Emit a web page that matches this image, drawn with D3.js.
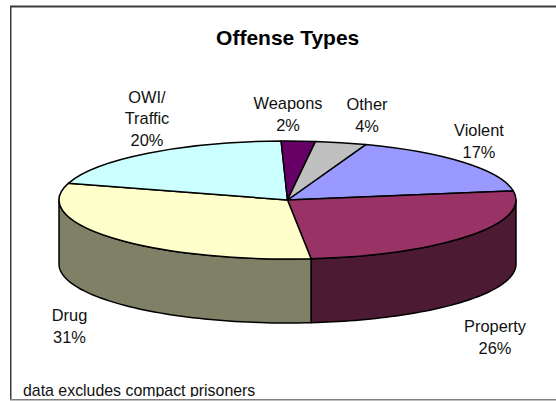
<!DOCTYPE html>
<html><head><meta charset="utf-8">
<script src="https://cdn.jsdelivr.net/npm/d3@7/dist/d3.min.js"></script>
<style>html,body{margin:0;padding:0;background:#fff}svg{display:block;font-family:"Liberation Sans",Arial,sans-serif}</style>
</head><body><svg id="c" width="556" height="401"></svg>
<script>
const categories=["Violent","Property","Drug","OWI/ Traffic","Weapons","Other"];
const values=[17,25.8,31.2,20,2.4,3.6];
const topColors=["#9999FF","#993366","#FFFFCC","#CCFFFF","#660066","#C0C0C0"];
const wallColors=["#4D4D80","#4D1A33","#808066","#668080","#330033","#606060"];
const labelLines=[["Violent","17%"],["Property","26%"],["Drug","31%"],["OWI/","Traffic","20%"],["Weapons","2%"],["Other","4%"]];
const labelAnchors=[[479,136],[495,332],[69.5,321],[147,102.5],[288,109],[367,110]];
const firstSliceAngleDeg=20;

const W=556,H=401,cx=287.5,cy=200,rx=228.5,ry=59,depth=64;
const svg=d3.select("#c");
svg.append("defs").append("clipPath").attr("id","foot").append("rect").attr("x",0).attr("y",370).attr("width",W).attr("height",27);
// frame
svg.append("rect").attr("x",10).attr("y",6).attr("width",1.5).attr("height",394).attr("fill","#3c3c3c");
svg.append("rect").attr("x",10).attr("y",5.5).attr("width",W).attr("height",2).attr("fill","#3c3c3c");
svg.append("rect").attr("x",10).attr("y",399).attr("width",W).attr("height",1.5).attr("fill","#808080");

svg.append("text").attr("x",287.7).attr("y",45).attr("text-anchor","middle").attr("font-weight","bold").attr("font-size",21).attr("fill","#000").text("Offense Types");

const a0=firstSliceAngleDeg*Math.PI/180;
const pie=d3.pie().sort(null).startAngle(a0).endAngle(a0+2*Math.PI);
const arcs=pie(values);
const px=t=>cx+rx*Math.sin(t), py=t=>cy-ry*Math.cos(t);

// walls
const wall=svg.append("g");
arcs.forEach((d,i)=>{
  const s=Math.max(d.startAngle,Math.PI/2), e=Math.min(d.endAngle,1.5*Math.PI);
  if(s>=e) return;
  const ts=d3.range(0,61).map(k=>s+(e-s)*k/60);
  const upper=ts.map(t=>[px(t),py(t)]);
  const lower=ts.slice().reverse().map(t=>[px(t),py(t)+depth]);
  wall.append("path").attr("d",d3.line()(upper.concat(lower))+"Z").attr("fill",wallColors[i]).attr("stroke","#000").attr("stroke-width",1.5).attr("stroke-linejoin","round");
});
// top
const arc=d3.arc().innerRadius(0).outerRadius(rx);
svg.append("g").attr("transform",`translate(${cx},${cy}) scale(1,${ry/rx})`)
  .selectAll("path").data(arcs).join("path").attr("d",arc)
  .attr("fill",(d,i)=>topColors[i]).attr("stroke","#000").attr("stroke-width",1.5)
  .attr("vector-effect","non-scaling-stroke").attr("stroke-linejoin","round");

// labels
const lh=21.7;
labelLines.forEach((lines,i)=>{
  const t=svg.append("text").attr("text-anchor","middle").attr("font-size",16.4).attr("fill","#111");
  lines.forEach((l,j)=>t.append("tspan").attr("x",labelAnchors[i][0]).attr("y",labelAnchors[i][1]+j*lh).text(l));
});
svg.append("g").attr("clip-path","url(#foot)").append("text").attr("x",23).attr("y",396).attr("font-size",15.9).attr("fill","#111").text("data excludes compact prisoners");
</script></body></html>
